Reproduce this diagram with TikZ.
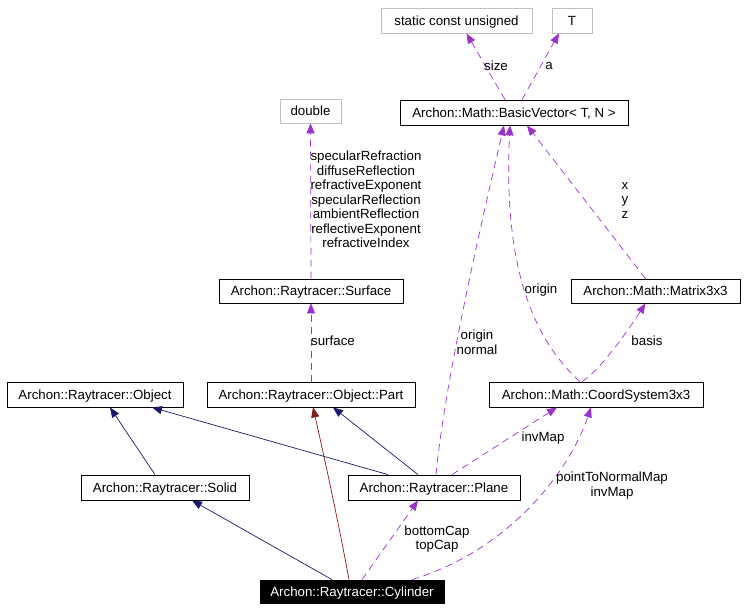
\documentclass[tikz,border=0pt]{standalone}
\usepackage{fontspec}
\setmainfont{Liberation Sans}
\usetikzlibrary{arrows.meta}
\definecolor{navyc}{RGB}{25,25,112}
\definecolor{redc}{RGB}{139,26,26}
\definecolor{purpc}{RGB}{154,50,205}
\definecolor{grayc}{RGB}{191,191,191}
\tikzset{
  every node/.style={font=\fontsize{13.3}{14.5}\selectfont, inner sep=0pt},
  boxbase/.style={line width=0.8pt, text height=11.5pt, text depth=2.1pt},
  cls/.style={boxbase, draw=black, minimum height=25pt},
  ext/.style={boxbase, draw=grayc, minimum height=25pt},
  self/.style={boxbase, draw=black, fill=black, text=white, minimum height=23pt},
  tip/.style={-{Triangle[length=10pt,width=8pt]}},
  inh/.style={tip, draw=navyc, line width=0.7pt},
  priv/.style={tip, draw=redc, line width=0.7pt},
  use/.style={tip, draw=purpc, line width=0.7pt, dash pattern=on 7pt off 5pt},
  lbl/.style={align=center, text=black}
}
\begin{document}
\begin{tikzpicture}[x=1pt,y=-1pt]
\useasboundingbox[fill=white] (0,0) rectangle (745,611);
% nodes
\node[ext, minimum width=151pt] (scu) at (456.5,20.5) {static const unsigned};
\node[ext, minimum width=40pt] (T) at (572,20.5) {T};
\node[cls, minimum width=228pt] (bv) at (514,112.5) {Archon::Math::BasicVector< T, N >};
\node[ext, minimum width=61pt, minimum height=24pt] (dbl) at (310.5,111) {double};
\node[cls, minimum width=184pt, minimum height=24pt] (surf) at (311,291) {Archon::Raytracer::Surface};
\node[cls, minimum width=169pt, minimum height=24pt] (mat) at (655.5,291) {Archon::Math::Matrix3x3};
\node[cls, minimum width=176pt] (obj) at (95,394.5) {Archon::Raytracer::Object};
\node[cls, minimum width=208pt] (part) at (311,394.5) {Archon::Raytracer::Object::Part};
\node[cls, minimum width=214pt] (coord) at (596,394.5) {Archon::Math::CoordSystem3x3};
\node[cls, minimum width=168pt] (solid) at (165,487.5) {Archon::Raytracer::Solid};
\node[cls, minimum width=172pt] (plane) at (434,487.5) {Archon::Raytracer::Plane};
\node[self, minimum width=184pt] (cyl) at (352,591.5) {Archon::Raytracer::Cylinder};
% inheritance
\draw[inh] ([xshift=-10pt]solid.north) -- ([xshift=15pt]obj.south);
\draw[inh] ([xshift=-46pt]plane.north) -- ([xshift=57pt]obj.south);
\draw[inh] ([xshift=-16pt]plane.north) -- ([xshift=22pt]part.south);
\draw[inh] ([xshift=-20pt]cyl.north) -- ([xshift=27pt]solid.south);
\draw[priv] ([xshift=-3pt]cyl.north) .. controls (340,530) and (325,460) .. ([xshift=2pt]part.south);
% usage
\draw[use] ([xshift=10pt]cyl.north) -- ([xshift=-16pt]plane.south);
\draw[use] ([xshift=60pt]cyl.north) .. controls (510,550) and (570,470) .. ([xshift=-5pt]coord.south);
\draw[use] ([xshift=18pt]plane.north) -- ([xshift=-39pt]coord.south);
\draw[use] ([xshift=2pt]plane.north) .. controls (445,380) and (482,220) .. ([xshift=-10pt]bv.south);
\draw[use] ([xshift=-16pt]coord.north) .. controls (517,325) and (505,230) .. ([xshift=-4pt]bv.south);
\draw[use] ([xshift=-14pt]coord.north) .. controls (600,370) and (625,335) .. ([xshift=-10pt]mat.south);
\draw[use] ([xshift=-10pt]mat.north) -- ([xshift=13pt]bv.south);
\draw[use] ([xshift=-9pt]bv.north) -- ([xshift=10pt]scu.south);
\draw[use] ([xshift=8pt]bv.north) -- ([xshift=-13pt]T.south);
\draw[use] (part.north) -- (surf.south);
\draw[use] (surf.north) -- (dbl.south);
% labels
\node[lbl] (l1) at (437,539) {bottomCap\\topCap};
\node[lbl] (l2) at (612,485.5) {pointToNormalMap\\invMap};
\node[lbl] (l3) at (543,438) {invMap};
\node[lbl] (l4) at (477,342) {origin\\normal};
\node[lbl] (l5) at (541,290) {origin};
\node[lbl] (l6) at (647,341) {basis};
\node[lbl] (l7) at (625,200) {x\\y\\z};
\node[lbl] (l8) at (496,66) {size};
\node[lbl] (l9) at (549,66) {a};
\node[lbl] (l10) at (333,341) {surface};
\node[lbl] (l11) at (366,199.5) {specularRefraction\\diffuseReflection\\refractiveExponent\\specularReflection\\ambientReflection\\reflectiveExponent\\refractiveIndex};
\end{tikzpicture}
\end{document}
